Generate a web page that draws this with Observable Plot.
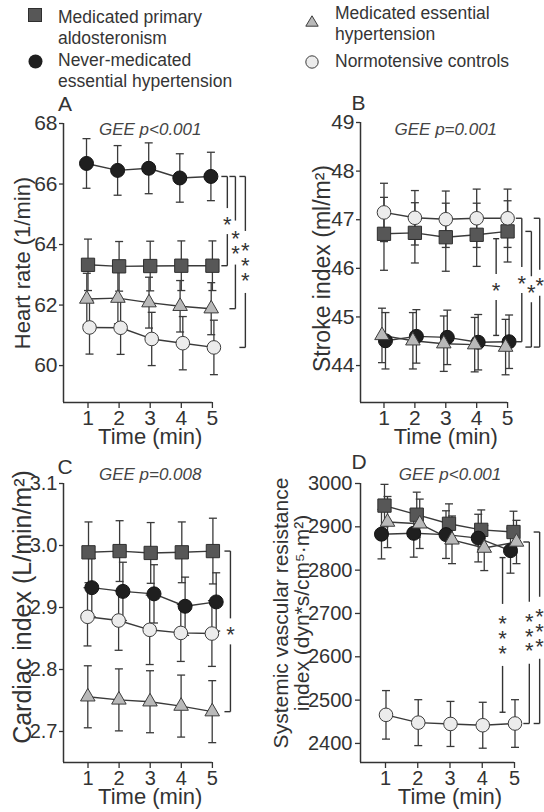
<!DOCTYPE html>
<html><head><meta charset="utf-8">
<script src="https://cdn.jsdelivr.net/npm/d3@7"></script>
<script src="https://cdn.jsdelivr.net/npm/@observablehq/plot@0.6"></script>
<style>
body{margin:0;background:#fff;}
#root{position:relative;width:544px;height:812px;overflow:hidden;font-family:"Liberation Sans",Arial,sans-serif;color:#333;background:#fff;}
.panel{position:absolute;}
.leg{position:absolute;font-size:17.5px;line-height:21px;color:#353535;white-space:nowrap;}
.sym{position:absolute;}
</style></head><body><div id="root"></div>
<script>
// ---------- data ----------
const times = [1, 2, 3, 4, 5];
const groupKeys = ["MPA", "NMEH", "MEH", "NC"];
const legendLines = [
  ["Medicated primary", "aldosteronism"],
  ["Never-medicated", "essential hypertension"],
  ["Medicated essential", "hypertension"],
  ["Normotensive controls"]
];

// A: Heart rate (1/min)
const hrMPA = [63.33, 63.28, 63.29, 63.30, 63.30];
const hrMPAse = [0.85, 0.82, 0.82, 0.82, 0.82];
const hrNMEH = [66.68, 66.45, 66.52, 66.20, 66.25];
const hrNMEHse = [0.82, 0.82, 0.84, 0.80, 0.80];
const hrMEH = [62.20, 62.23, 62.08, 61.96, 61.88];
const hrMEHse = [0.85, 0.85, 0.84, 0.85, 0.86];
const hrNC = [61.26, 61.25, 60.88, 60.74, 60.60];
const hrNCse = [0.88, 0.88, 0.88, 0.88, 0.90];
const hrTicks = [60, 62, 64, 66, 68];

// B: Stroke index (ml/m2)
const siMPA = [46.71, 46.73, 46.64, 46.69, 46.76];
const siMPAse = [0.75, 0.62, 0.70, 0.65, 0.63];
const siNMEH = [44.51, 44.60, 44.58, 44.48, 44.49];
const siNMEHse = [0.58, 0.55, 0.56, 0.57, 0.55];
const siMEH = [44.62, 44.51, 44.45, 44.43, 44.38];
const siMEHse = [0.56, 0.58, 0.57, 0.56, 0.57];
const siNC = [47.15, 47.04, 47.01, 47.03, 47.03];
const siNCse = [0.60, 0.56, 0.58, 0.60, 0.60];
const siTicks = [44, 45, 46, 47, 48, 49];

// C: Cardiac index (L/min/m2)
const ciMPA = [2.989, 2.991, 2.988, 2.989, 2.991];
const ciMPAse = [0.049, 0.049, 0.049, 0.049, 0.053];
const ciNMEH = [2.932, 2.926, 2.922, 2.902, 2.909];
const ciNMEHse = [0.047, 0.047, 0.047, 0.047, 0.047];
const ciMEH = [2.756, 2.751, 2.748, 2.741, 2.732];
const ciMEHse = [0.050, 0.050, 0.050, 0.050, 0.050];
const ciNC = [2.885, 2.879, 2.864, 2.859, 2.858];
const ciNCse = [0.047, 0.048, 0.056, 0.046, 0.053];
const ciTicks = [2.7, 2.8, 2.9, 3.0, 3.1];

// D: Systemic vascular resistance index
const svMPA = [2949, 2928, 2907, 2893, 2888];
const svMPAse = [49, 52, 46, 46, 48];
const svNMEH = [2883, 2885, 2882, 2874, 2845];
const svNMEHse = [57, 55, 55, 55, 52];
const svMEH = [2911, 2907, 2870, 2851, 2865];
const svMEHse = [59, 57, 55, 52, 50];
const svNC = [2466, 2448, 2445, 2442, 2446];
const svNCse = [56, 53, 52, 53, 55];
const svTicks = [2400, 2500, 2600, 2700, 2800, 2900, 3000];

const panelLetters = ["A", "B", "C", "D"];
const geeTexts = ["GEE p<0.001", "GEE p=0.001", "GEE p=0.008", "GEE p<0.001"];
const yTitles = ["Heart rate (1/min)", "Stroke index (ml/m²)", "Cardiac index (L/min/m²)",
  "Systemic vascular resistance\nindex (dyn*s/cm⁵·m²)"];
const xTitle = "Time (min)";

// significance brackets (groups compared at the last time point)
const hrBrackets = [
  {from: "NMEH", to: "MPA", x: 5.48, stars: 1},
  {from: "NMEH", to: "MEH", x: 5.74, stars: 2},
  {from: "NMEH", to: "NC", x: 6.06, stars: 3}
];
const siBrackets = [
  {y1: 46.61, y2: 44.62, x: 4.63, stars: 1, cap: "center"},
  {from: "NC", to: "NMEH", x: 5.46, stars: 1},
  {from: "MPA", to: "MEH", x: 5.77, stars: 1},
  {from: "NC", to: "MEH", x: 6.04, stars: 1}
];
const ciBrackets = [
  {from: "MPA", to: "MEH", x: 5.58, stars: 1}
];
const svBrackets = [
  {y1: 2829, y2: 2472, x: 4.63, stars: 3, cap: "center"},
  {from: "MEH", to: "NC", x: 5.46, stars: 3},
  {from: "MPA", to: "NC", x: 5.78, stars: 3}
];

// ---------- styles ----------
const groupStyle = {
  MPA: {symbol: "square", r: 7.5, fill: "#575757", stroke: "#2f2f2f"},
  NMEH: {symbol: "circle", r: 7, fill: "#1f1f1f", stroke: "#141414"},
  MEH: {symbol: "triangle", r: 5.4, fill: "#b9b9b9", stroke: "#3c3c3c"},
  NC: {symbol: "circle", r: 6.8, fill: "#ececec", stroke: "#3c3c3c"}
};
const ink = "#333";

const root = document.getElementById("root");

// ---------- legend ----------
const legendPos = [
  {sx: 28, sy: 8, tx: 58, ty: 7},
  {sx: 27.5, sy: 53.5, tx: 58, ty: 50},
  {sx: 304.5, sy: 12.5, tx: 335, ty: 3},
  {sx: 304.5, sy: 54.5, tx: 335, ty: 51}
];
const legendSvg = [
  '<svg width="14" height="14"><rect x="0.5" y="0.5" width="13" height="13" fill="#575757" stroke="#2f2f2f"/></svg>',
  '<svg width="15" height="15"><circle cx="7.5" cy="7.5" r="7" fill="#1f1f1f"/></svg>',
  '<svg width="14" height="12"><polygon points="7,0.8 0.8,11.2 13.2,11.2" fill="#b9b9b9" stroke="#3c3c3c" stroke-width="1"/></svg>',
  '<svg width="14" height="14"><circle cx="7" cy="7" r="6.2" fill="#ececec" stroke="#3c3c3c" stroke-width="1"/></svg>'
];
groupKeys.forEach((k, i) => {
  const p = legendPos[i];
  const s = document.createElement("div");
  s.className = "sym"; s.style.left = p.sx + "px"; s.style.top = p.sy + "px";
  s.innerHTML = legendSvg[i];
  root.appendChild(s);
  const t = document.createElement("div");
  t.className = "leg"; t.style.left = p.tx + "px"; t.style.top = p.ty + "px";
  t.innerHTML = legendLines[i].join("<br>");
  root.appendChild(t);
});

// ---------- panels ----------
function bracketMarks(brackets, series, kx, ky) {
  const byKey = Object.fromEntries(series.map(s => [s.key, s]));
  const segs = [], labels = [];
  const tick = 6 / kx, capHalf = 3 / kx;
  for (const b of brackets) {
    const y1 = b.y1 ?? byKey[b.from].mean[times.length - 1];
    const y2 = b.y2 ?? byKey[b.to].mean[times.length - 1];
    const hi = Math.max(y1, y2), lo = Math.min(y1, y2), mid = (hi + lo) / 2;
    const gap = (8 + b.stars * 18) / ky;
    segs.push({x1: b.x, x2: b.x, y1: hi, y2: mid + gap / 2});
    segs.push({x1: b.x, x2: b.x, y1: mid - gap / 2, y2: lo});
    const a0 = b.cap === "center" ? b.x - capHalf : b.x - tick;
    const a1 = b.cap === "center" ? b.x + capHalf : b.x;
    segs.push({x1: a0, x2: a1, y1: hi, y2: hi});
    segs.push({x1: a0, x2: a1, y1: lo, y2: lo});
    labels.push({x: b.x, y: mid, text: Array(b.stars).fill("*").join("\n")});
  }
  return [
    Plot.link(segs, {x1: "x1", y1: "y1", x2: "x2", y2: "y2", stroke: ink, strokeWidth: 1.4}),
    Plot.text(labels, {x: "x", y: "y", text: "text", fontSize: 22, lineHeight: 0.68, lineAnchor: "middle",
      dy: 6, fill: ink})
  ];
}

function panel(cfg, idx) {
  const innerW = cfg.W - cfg.mL, innerH = cfg.H - cfg.mT - cfg.mB;
  const kx = innerW / (cfg.xDom[1] - cfg.xDom[0]);
  const ky = innerH / (cfg.yDom[1] - cfg.yDom[0]);
  const cap = 4 / kx;
  const marks = [
    Plot.ruleX([cfg.xDom[0]], {y1: cfg.yDom[0], y2: cfg.yDom[1], stroke: ink, strokeWidth: 1.5}),
    Plot.ruleY([cfg.yDom[0]], {x1: cfg.xDom[0], x2: times[times.length - 1], stroke: ink, strokeWidth: 1.5}),
    Plot.axisY({ticks: cfg.yTicks, tickFormat: cfg.fmt, tickSize: cfg.tickSize, tickPadding: cfg.tickPad,
      fontSize: cfg.fs, label: null, strokeWidth: 1.3}),
    Plot.axisX({ticks: times, tickFormat: d3.format("d"), tickSize: 6, tickPadding: 2, fontSize: cfg.fs,
      label: null, strokeWidth: 1.3})
  ];
  const rowsBy = cfg.series.map(s => ({s, rows: times.map((t, i) => ({t, v: s.mean[i], lo: s.mean[i] - s.se[i], hi: s.mean[i] + s.se[i]}))}));
  for (const {s, rows} of rowsBy) {
    const dx = cfg.dodge[s.key];
    marks.push(Plot.link(rows, {x1: "t", x2: "t", y1: "lo", y2: "hi", dx, stroke: "#3a3a3a", strokeWidth: 1.3}));
    marks.push(Plot.link(rows, {x1: d => d.t - cap, x2: d => d.t + cap, y1: "hi", y2: "hi", dx, stroke: "#3a3a3a", strokeWidth: 1.3}));
    marks.push(Plot.link(rows, {x1: d => d.t - cap, x2: d => d.t + cap, y1: "lo", y2: "lo", dx, stroke: "#3a3a3a", strokeWidth: 1.3}));
  }
  for (const {s, rows} of rowsBy) {
    marks.push(Plot.line(rows, {x: "t", y: "v", dx: cfg.dodge[s.key], stroke: "#3a3a3a", strokeWidth: 1.4}));
  }
  for (const {s, rows} of rowsBy) {
    const st = groupStyle[s.key];
    marks.push(Plot.dot(rows, {x: "t", y: "v", dx: cfg.dodge[s.key], symbol: st.symbol, r: st.r,
      fill: st.fill, stroke: st.stroke, strokeWidth: 1}));
  }
  marks.push(...bracketMarks(cfg.brackets, cfg.series, kx, ky));
  // texts
  marks.push(Plot.text([panelLetters[idx]], {frameAnchor: "top-left", textAnchor: "middle", lineAnchor: "middle",
    dx: cfg.letter[0], dy: cfg.letter[1], fontSize: 21, fill: ink}));
  marks.push(Plot.text([geeTexts[idx]], {x: [d3.median(times)], frameAnchor: "top", lineAnchor: "middle",
    dy: cfg.geeDy, fontSize: 17, fontStyle: "italic", fill: "#444"}));
  marks.push(Plot.text([yTitles[idx]], {frameAnchor: "left", textAnchor: "middle", lineAnchor: "middle",
    rotate: -90, dx: cfg.title[0], dy: cfg.title[1], fontSize: cfg.titleFs, lineHeight: 1.0, fill: ink}));
  marks.push(Plot.text([xTitle], {x: [d3.median(times)], frameAnchor: "bottom", lineAnchor: "middle",
    dy: 34, fontSize: 22, fill: ink}));

  const plot = Plot.plot({
    width: cfg.W, height: cfg.H,
    marginLeft: cfg.mL, marginRight: 0, marginTop: cfg.mT, marginBottom: cfg.mB,
    x: {domain: cfg.xDom}, y: {domain: cfg.yDom},
    style: {fontFamily: '"Liberation Sans", Arial, sans-serif', fontSize: cfg.fs + "px", color: ink,
      background: "transparent", overflow: "visible"},
    marks
  });
  const div = document.createElement("div");
  div.className = "panel"; div.style.left = cfg.left + "px"; div.style.top = cfg.top + "px";
  div.appendChild(plot);
  root.appendChild(div);
}

const mk = (k, mean, se) => ({key: k, mean, se});
const configs = [
  {left: 0, top: 90, W: 272, H: 360, mL: 63, mT: 33, mB: 48, xDom: [0.212, 0.212 + 209 / 31.1], yDom: [58.78, 68],
   yTicks: hrTicks, fmt: d3.format("d"), tickSize: 4, tickPad: 2, fs: 21,
   series: [mk("MPA", hrMPA, hrMPAse), mk("NMEH", hrNMEH, hrNMEHse), mk("MEH", hrMEH, hrMEHse), mk("NC", hrNC, hrNCse)],
   dodge: {MPA: 0, NMEH: -1.5, MEH: -1.2, NC: 1.5}, brackets: hrBrackets,
   letter: [1.5, -19], geeDy: 6, title: [-41, 0], titleFs: 22},
  {left: 272, top: 90, W: 272, H: 360, mL: 88, mT: 32, mB: 48, xDom: [0.24, 0.24 + 184 / 30.9], yDom: [43.24, 49],
   yTicks: siTicks, fmt: d3.format("d"), tickSize: 4, tickPad: 2, fs: 21,
   series: [mk("MPA", siMPA, siMPAse), mk("NMEH", siNMEH, siNMEHse), mk("MEH", siMEH, siMEHse), mk("NC", siNC, siNCse)],
   dodge: {MPA: 0, NMEH: 1.5, MEH: -2, NC: 0}, brackets: siBrackets,
   letter: [-2, -19.5], geeDy: 7, title: [-38, 6], titleFs: 23},
  {left: 0, top: 450, W: 272, H: 362, mL: 63, mT: 33, mB: 50, xDom: [0.212, 0.212 + 209 / 31.1], yDom: [2.65, 3.1],
   yTicks: ciTicks, fmt: d3.format(".1f"), tickSize: 4, tickPad: 2, fs: 20,
   series: [mk("MPA", ciMPA, ciMPAse), mk("NMEH", ciNMEH, ciNMEHse), mk("MEH", ciMEH, ciMEHse), mk("NC", ciNC, ciNCse)],
   dodge: {MPA: 0.5, NMEH: 3.8, MEH: -0.2, NC: -0.5}, brackets: ciBrackets,
   letter: [1.5, -16], geeDy: -9, title: [-41, -16], titleFs: 25},
  {left: 272, top: 450, W: 272, H: 362, mL: 88, mT: 33, mB: 50, xDom: [0.225, 0.225 + 184 / 32.25], yDom: [2356, 3000],
   yTicks: svTicks, fmt: d3.format("d"), tickSize: 5, tickPad: 3, fs: 20,
   series: [mk("MPA", svMPA, svMPAse), mk("NMEH", svNMEH, svNMEHse), mk("MEH", svMEH, svMEHse), mk("NC", svNC, svNCse)],
   dodge: {MPA: -1, NMEH: -4, MEH: 2, NC: 0.5}, brackets: svBrackets,
   letter: [-1.5, -21], geeDy: -9, title: [-68.5, -10], titleFs: 21}
];
configs.forEach(panel);
</script></body></html>
